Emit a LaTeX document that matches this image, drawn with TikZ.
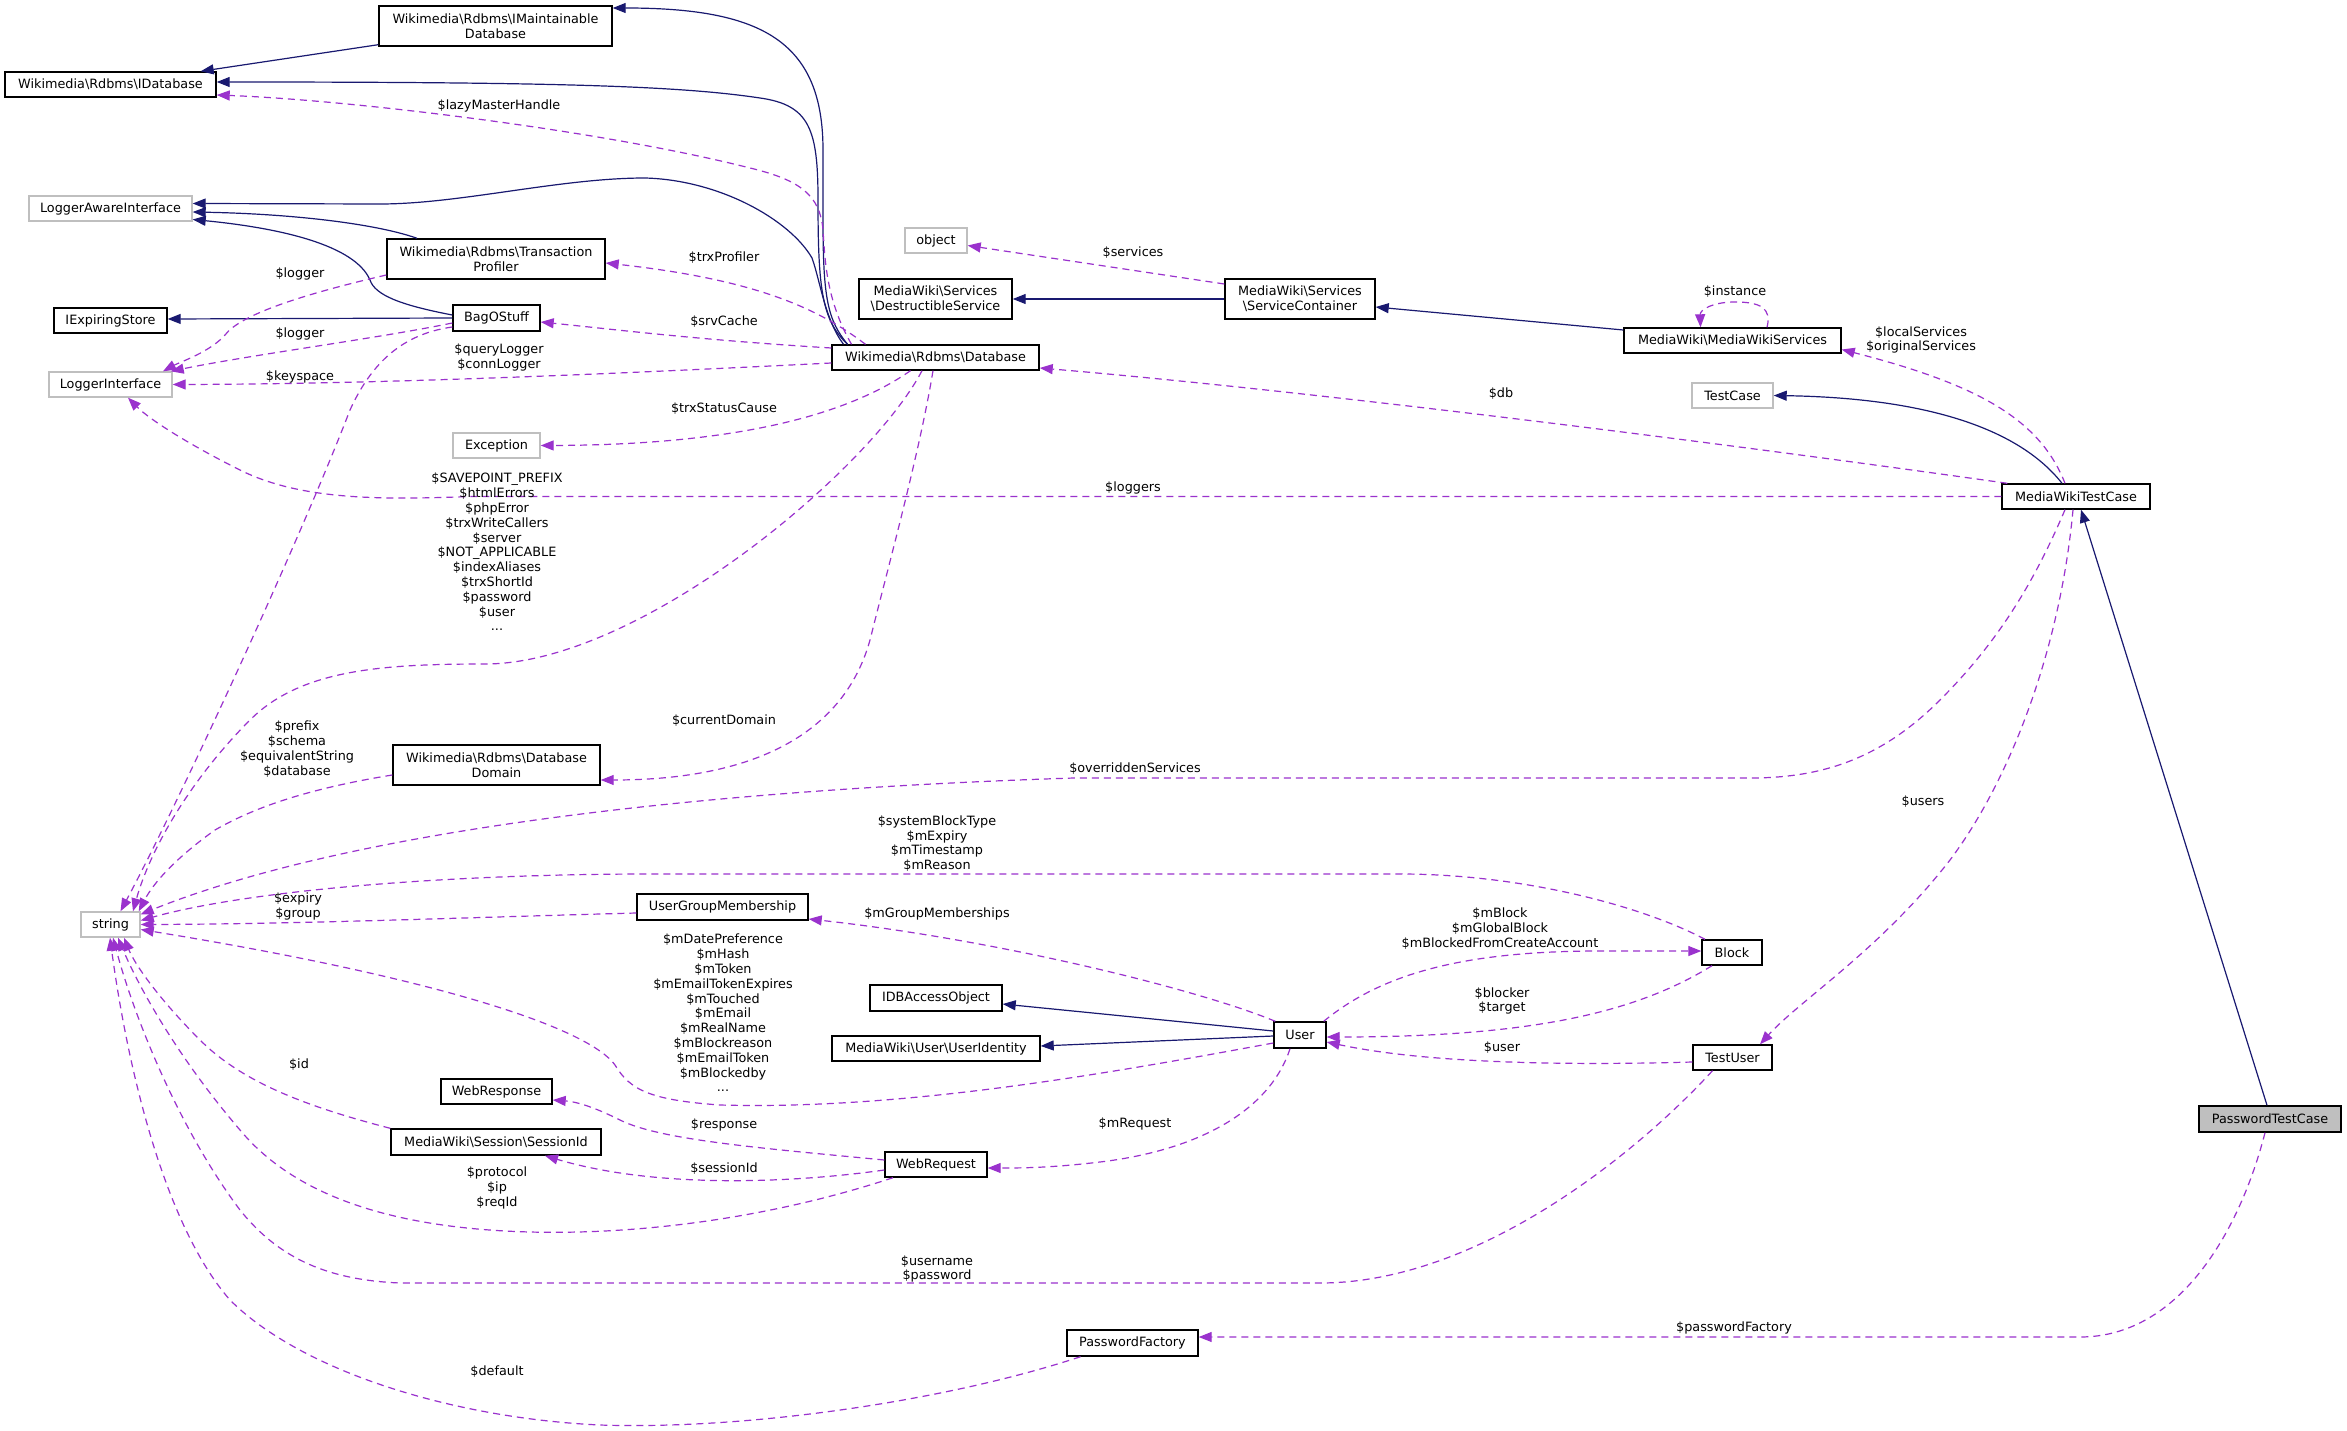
\documentclass[tikz,border=0pt]{standalone}
\usepackage{fontspec}
\setmainfont{DejaVu Sans}
\usetikzlibrary{arrows.meta}
\definecolor{edgeblue}{HTML}{191970}
\definecolor{edgepurple}{HTML}{9A32CD}
\definecolor{grayline}{HTML}{BFBFBF}
\newcommand\dgfont{\fontsize{12.8}{14.8}\selectfont}
\tikzset{
  cls/.style={draw=black, line width=1.4pt, fill=white, inner sep=0pt, font=\dgfont, align=center},
  ext/.style={cls, draw=grayline},
  inh/.style={draw=edgeblue, line width=1.2pt, -{Triangle[length=13pt,width=10pt]}},
  use/.style={draw=edgepurple, line width=1.2pt, dash pattern=on 7pt off 5pt, -{Triangle[length=13pt,width=10pt]}},
  lab/.style={font=\dgfont, align=center, inner sep=0pt}
}
\begin{document}
\begin{tikzpicture}[x=1pt,y=-1pt]
\fill[white] (0,0) rectangle (2347,1431);
\useasboundingbox (0,0) rectangle (2347,1431);

% nodes
\node[cls, minimum width=233pt, minimum height=40pt] (imdb) at (495.5,26) {Wikimedia\textbackslash Rdbms\textbackslash IMaintainable\\Database};
\node[cls, minimum width=211pt, minimum height=25pt] (idb) at (110.5,84.5) {Wikimedia\textbackslash Rdbms\textbackslash IDatabase};
\node[ext, minimum width=163pt, minimum height=25pt] (lai) at (110.5,208.5) {LoggerAwareInterface};
\node[cls, minimum width=218pt, minimum height=40pt] (tp) at (496,259) {Wikimedia\textbackslash Rdbms\textbackslash Transaction\\Profiler};
\node[cls, minimum width=113pt, minimum height=25pt] (ies) at (110.5,320.5) {IExpiringStore};
\node[cls, minimum width=87pt, minimum height=26pt] (bag) at (496.5,318) {BagOStuff};
\node[ext, minimum width=123pt, minimum height=25pt] (li) at (110.5,384.5) {LoggerInterface};
\node[ext, minimum width=87pt, minimum height=25pt] (exc) at (496.5,445.5) {Exception};
\node[cls, minimum width=207pt, minimum height=25pt] (db) at (935.5,357.5) {Wikimedia\textbackslash Rdbms\textbackslash Database};
\node[ext, minimum width=62pt, minimum height=25pt] (obj) at (936,240.5) {object};
\node[cls, minimum width=153pt, minimum height=40pt] (ds) at (935.5,299) {MediaWiki\textbackslash Services\\\textbackslash DestructibleService};
\node[cls, minimum width=150pt, minimum height=40pt] (sc) at (1300,299) {MediaWiki\textbackslash Services\\\textbackslash ServiceContainer};
\node[cls, minimum width=217pt, minimum height=25pt] (mws) at (1732.5,340.5) {MediaWiki\textbackslash MediaWikiServices};
\node[ext, minimum width=81pt, minimum height=25pt] (tc) at (1732.5,395.5) {TestCase};
\node[cls, minimum width=148pt, minimum height=25pt] (mwtc) at (2076,496.5) {MediaWikiTestCase};
\node[cls, minimum width=207pt, minimum height=40pt] (dd) at (496.5,765) {Wikimedia\textbackslash Rdbms\textbackslash Database\\Domain};
\node[ext, minimum width=59pt, minimum height=25pt] (str) at (110.5,924.5) {string};
\node[cls, minimum width=171pt, minimum height=26pt] (ugm) at (722.5,907) {UserGroupMembership};
\node[cls, minimum width=60pt, minimum height=25pt] (blk) at (1732,952.5) {Block};
\node[cls, minimum width=132pt, minimum height=26pt] (idbao) at (936,998) {IDBAccessObject};
\node[cls, minimum width=208pt, minimum height=25pt] (ui) at (936,1048.5) {MediaWiki\textbackslash User\textbackslash UserIdentity};
\node[cls, minimum width=52pt, minimum height=26pt] (usr) at (1300,1035) {User};
\node[cls, minimum width=79pt, minimum height=25pt] (tu) at (1732.5,1057.5) {TestUser};
\node[cls, minimum width=111pt, minimum height=25pt] (wresp) at (496.5,1091.5) {WebResponse};
\node[cls, minimum width=210pt, minimum height=26pt] (sid) at (496,1142) {MediaWiki\textbackslash Session\textbackslash SessionId};
\node[cls, minimum width=102pt, minimum height=25pt] (wreq) at (936,1164.5) {WebRequest};
\node[cls, fill=grayline, minimum width=142pt, minimum height=26pt] (ptc) at (2270,1119) {PasswordTestCase};
\node[cls, minimum width=131pt, minimum height=26pt] (pf) at (1132.5,1343) {PasswordFactory};

% inheritance
\draw[inh] ([yshift=2]imdb.south west) -- ([xshift=-16]idb.north east);
\draw[inh] ([xshift=-88]db.north) .. controls (828,320) and (823,300) .. (823,220) -- (823,150) .. controls (823,40) and (760,8) .. ([yshift=18]imdb.east);
\draw[inh] ([xshift=-88]db.north) .. controls (822,320) and (818,290) .. (818,200) .. controls (818,130) and (810,105) .. (760,98) .. controls (680,86) and (560,82) .. ([yshift=2.5]idb.east);
\draw[inh] ([xshift=-92]db.north) .. controls (825,320) and (820,280) .. (812,258) .. controls (790,220) and (720,180) .. (645,178) .. controls (560,178) and (460,204) .. (380,204) -- ([yshift=5]lai.east);
\draw[inh] ([xshift=-79]tp.north) .. controls (380,225) and (300,214) .. ([yshift=-3.5]lai.east);
\draw[inh] ([yshift=3]bag.west) .. controls (400,305) and (375,295) .. (370,280) .. controls (355,245) and (280,228) .. ([yshift=-11]lai.east);
\draw[inh] (bag.west) -- ([yshift=1.5]ies.east);
\draw[inh] (sc.west) -- (ds.east);
\draw[inh] ([yshift=10.5]mws.west) -- ([yshift=-8]sc.east);
\draw[inh] ([xshift=-14]mwtc.north) .. controls (2020,430) and (1930,398) .. (tc.east);
\draw[inh] ([xshift=-3]ptc.north) -- ([xshift=5]mwtc.south);
\draw[inh] ([yshift=4]usr.west) -- ([yshift=-6]idbao.east);
\draw[inh] ([yshift=-1]usr.west) -- ([yshift=2.5]ui.east);

% usage
\draw[use] ([xshift=-84]db.north) .. controls (826,300) and (825,260) .. (823,230) .. controls (820,195) and (800,180) .. (750,168) .. controls (600,130) and (350,100) .. ([yshift=-10.5]idb.east);
\node[lab] at (499,106) {\$lazyMasterHandle};

\draw[use] ([xshift=-70]db.north) .. controls (820,310) and (760,280) .. ([yshift=-4]tp.east);
\node[lab] at (724,258) {\$trxProfiler};

\draw[use] ([yshift=9.5]db.west) .. controls (700,340) and (620,330) .. ([yshift=-4]bag.east);
\node[lab] at (724,322) {\$srvCache};

\draw[use] ([yshift=-5.5]db.west) .. controls (650,372) and (400,384) .. (li.east);
\node[lab] at (499,357.5) {\$queryLogger\\\$connLogger};

\draw[use] ([yshift=-5]bag.west) .. controls (380,338) and (250,355) .. ([xshift=-2]li.north east);
\node[lab] at (300,334) {\$logger};

\draw[use] ([yshift=-16]tp.west) .. controls (300,295) and (240,315) .. (225,335) .. controls (210,352) and (180,362) .. ([xshift=52.5]li.north);
\node[lab] at (300,274) {\$logger};

\draw[use] ([yshift=-9]bag.west) .. controls (410,333) and (375,355) .. (350,410) .. controls (300,540) and (180,800) .. ([xshift=10]str.north);
\node[lab] at (300,377) {\$keyspace};

\draw[use] (mwtc.west) -- (470,496.5) .. controls (380,500) and (300,500) .. (240,470) .. controls (190,445) and (150,420) .. ([xshift=17.5]li.south);
\node[lab] at (1133,488) {\$loggers};

\draw[use] ([xshift=-25]db.south) .. controls (840,420) and (720,445) .. (exc.east);
\node[lab] at (724,409) {\$trxStatusCause};

\draw[use] ([xshift=-13.5]db.south) .. controls (870,470) and (640,664) .. (485,664) .. controls (380,664) and (300,670) .. (250,720) .. controls (190,780) and (150,850) .. ([xshift=22.5]str.north);
\node[lab] at (497,552) {\$SAVEPOINT\_PREFIX\\\$htmlErrors\\\$phpError\\\$trxWriteCallers\\\$server\\\$NOT\_APPLICABLE\\\$indexAliases\\\$trxShortId\\\$password\\\$user\\...};

\draw[use] ([xshift=-2.5]db.south) .. controls (920,450) and (890,560) .. (870,640) .. controls (845,730) and (760,780) .. ([yshift=-15]dd.east);
\node[lab] at (724,721) {\$currentDomain};

\draw[use] ([yshift=-10]dd.west) .. controls (300,790) and (250,810) .. (215,830) .. controls (180,855) and (155,880) .. ([xshift=-2]str.north east);
\node[lab] at (297,749) {\$prefix\\\$schema\\\$equivalentString\\\$database};

\draw[use] ([xshift=-11]mwtc.south) .. controls (2035,580) and (2000,640) .. (1940,700) .. controls (1880,760) and (1820,778) .. (1750,778) -- (1074,778) .. controls (700,790) and (350,830) .. ([yshift=-3]str.north east);
\node[lab] at (1135,769) {\$overriddenServices};

\draw[use] ([xshift=-3]mwtc.south) .. controls (2060,650) and (2010,780) .. (1950,860) .. controls (1880,950) and (1800,1000) .. ([xshift=27.5]tu.north);
\node[lab] at (1923,802) {\$users};

\draw[use] ([xshift=-27]blk.north) .. controls (1640,905) and (1520,874) .. (1400,874) -- (650,874) .. controls (450,874) and (250,890) .. ([yshift=4]str.east);
\node[lab] at (937,843.5) {\$systemBlockType\\\$mExpiry\\\$mTimestamp\\\$mReason};

\draw[use] ([yshift=-6]ugm.west) .. controls (450,918) and (300,924) .. (str.east);
\node[lab] at (298,906.5) {\$expiry\\\$group};

\draw[use] ([xshift=2]usr.north west) .. controls (1200,990) and (1000,940) .. ([yshift=-12]ugm.east);
\node[lab] at (937,914) {\$mGroupMemberships};

\draw[use] ([xshift=-3]usr.north east) .. controls (1380,975) and (1460,951) .. (1600,951) -- ([yshift=1.5]blk.west);
\node[lab] at (1500,928.5) {\$mBlock\\\$mGlobalBlock\\\$mBlockedFromCreateAccount};

\draw[use] ([xshift=-20]blk.south) .. controls (1640,1010) and (1540,1037) .. ([yshift=-2]usr.east);
\node[lab] at (1502,1001) {\$blocker\\\$target};

\draw[use] ([yshift=-4.5]tu.west) .. controls (1550,1066) and (1420,1062) .. ([yshift=-7]usr.east);
\node[lab] at (1502,1048) {\$user};

\draw[use] ([yshift=-8]usr.west) .. controls (1100,1075) and (900,1110) .. (720,1105) .. controls (650,1100) and (630,1090) .. (615,1065) .. controls (590,1030) and (450,980) .. ([yshift=-5]str.east);
\node[lab] at (723,1013) {\$mDatePreference\\\$mHash\\\$mToken\\\$mEmailTokenExpires\\\$mTouched\\\$mEmail\\\$mRealName\\\$mBlockreason\\\$mEmailToken\\\$mBlockedby\\...};

\draw[use] ([xshift=-10]usr.south) .. controls (1270,1110) and (1200,1150) .. (1100,1162) .. controls (1050,1168) and (1020,1168) .. ([yshift=-3.5]wreq.east);
\node[lab] at (1135,1124) {\$mRequest};

\draw[use] ([yshift=4.5]wreq.west) .. controls (760,1148) and (660,1140) .. (620,1120) .. controls (600,1110) and (580,1102) .. ([yshift=-8.5]wresp.east);
\node[lab] at (724,1125) {\$response};

\draw[use] ([yshift=-5.5]wreq.west) .. controls (800,1182) and (660,1190) .. ([xshift=49]sid.south);
\node[lab] at (724,1169) {\$sessionId};

\draw[use] (sid.north west) .. controls (300,1105) and (240,1080) .. (200,1040) .. controls (160,1000) and (135,965) .. ([xshift=13.5]str.south);
\node[lab] at (299,1065) {\$id};

\draw[use] ([xshift=-43]wreq.south) .. controls (780,1215) and (650,1235) .. (530,1232) .. controls (380,1228) and (290,1190) .. (240,1130) .. controls (180,1060) and (140,990) .. ([xshift=7.5]str.south);
\node[lab] at (497,1188) {\$protocol\\\$ip\\\$reqId};

\draw[use] ([xshift=-20]tu.south) .. controls (1640,1150) and (1480,1283) .. (1320,1283) -- (400,1283) .. controls (330,1280) and (280,1260) .. (240,1210) .. controls (180,1130) and (135,1020) .. ([xshift=2.5]str.south);
\node[lab] at (937,1269) {\$username\\\$password};

\draw[use] ([xshift=-52]pf.south) .. controls (950,1400) and (750,1430) .. (600,1425) .. controls (450,1418) and (300,1370) .. (230,1300) .. controls (160,1220) and (125,1050) .. ([xshift=-0.5]str.south);
\node[lab] at (497,1372) {\$default};

\draw[use] ([xshift=-5]ptc.south) .. controls (2240,1230) and (2180,1337) .. (2080,1337) -- ([yshift=6]pf.east);
\node[lab] at (1734,1328) {\$passwordFactory};

\draw[use] ([yshift=15]sc.west) -- ([yshift=-5]obj.east);
\node[lab] at (1133,253) {\$services};

\draw[use] ([xshift=34.5]mws.north) .. controls (1772,308) and (1760,302) .. (1735,302) .. controls (1712,302) and (1700,310) .. ([xshift=-32]mws.north);
\node[lab] at (1735,292) {\$instance};

\draw[use] ([xshift=-11]mwtc.north) .. controls (2040,420) and (1980,385) .. ([yshift=-9]mws.east);
\node[lab] at (1921,340) {\$localServices\\\$originalServices};

\draw[use] ([xshift=6]mwtc.north west) .. controls (1700,440) and (1300,390) .. ([yshift=-10.5]db.east);
\node[lab] at (1501,394) {\$db};
\end{tikzpicture}
\end{document}
